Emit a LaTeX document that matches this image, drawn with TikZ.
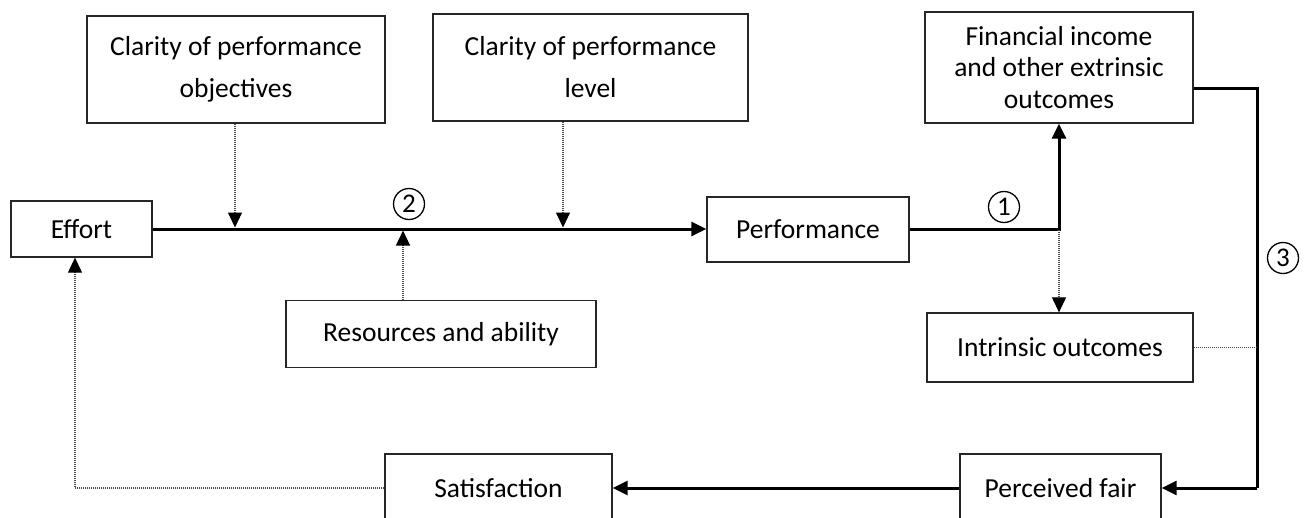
\documentclass[tikz,border=0pt]{standalone}
\usepackage{fontspec}
\setmainfont{Carlito}
\usetikzlibrary{arrows.meta}
\begin{document}
\begin{tikzpicture}[x=1pt,y=-1pt,
  box/.style={draw=black!85, line width=1.3pt, inner sep=0pt, align=center, font=\fontsize{27.5}{42}\selectfont},
  thickline/.style={line width=3pt, black},
  dotline/.style={line width=1.1pt, black!70, dash pattern=on 1pt off 1pt},
  tip/.style={-{Triangle[length=15pt,width=14pt,color=black]}},
  num/.style={draw, circle, line width=1.3pt, inner sep=0pt, minimum size=31pt, font=\fontsize{27}{27}\selectfont}
]
\useasboundingbox (0,0) rectangle (1307,517);
\node[box, minimum width=298pt, minimum height=107pt] (obj) at (236,69.5) {Clarity of performance\\objectives};
\node[box, minimum width=315pt, minimum height=107pt] (lvl) at (590.5,67.5) {Clarity of performance\\level};
\node[box, minimum width=268pt, minimum height=111pt, font=\fontsize{27.5}{31.5}\selectfont] (fin) at (1059,67.5) {Financial income\\and other extrinsic\\outcomes};
\node[box, minimum width=141pt, minimum height=56pt] (effort) at (81.5,229) {Effort};
\node[box, minimum width=202pt, minimum height=65pt] (perf) at (808,229.5) {Performance};
\node[box, minimum width=310pt, minimum height=67pt] (res) at (441,334) {Resources and ability};
\node[box, minimum width=266pt, minimum height=69pt] (intr) at (1060,347.5) {Intrinsic outcomes};
\node[box, minimum width=201pt, minimum height=68pt] (perc) at (1060.5,488) {Perceived fair};
\node[box, minimum width=227pt, minimum height=68pt] (sat) at (498.5,488) {Satisfaction};

\node[num] (n2) at (409,204) {2};
\node[num] (n1) at (1004,207) {1};
\node[num] (n3) at (1283,258) {3};

\coordinate (lvlx) at (563,0);
\coordinate (resx) at (403,0);
\coordinate (objx) at (235,0);
\coordinate (j1) at (1059,229.5);
\coordinate (j3top) at (1257,88);
\coordinate (j3bot) at (1257,488);
\coordinate (lx) at (75,0);

% main chain
\draw[thickline, tip] (effort.east) -- (perf.west |- effort.east);
\draw[dotline, tip, shorten >=1.5pt] (obj.south -| objx) -- (effort.east -| objx);
\draw[dotline, tip, shorten >=1.5pt] (lvl.south -| lvlx) -- (effort.east -| lvlx);
\draw[dotline, tip, shorten >=1.5pt] (res.north -| resx) -- (effort.east -| resx);

% performance to outcomes
\draw[thickline, tip] (perf.east) -- (j1) -- (fin.south -| j1);
\draw[dotline, tip] (j1) -- (intr.north -| j1);

% outcomes to perceived fair
\draw[thickline] ([yshift=-20.5pt]fin.east) -- (j3top) -- (j3bot);
\draw[thickline, tip] (j3bot) -- (perc.east);
\draw[dotline] (intr.east) -- (intr.east -| j3top);

% feedback
\draw[thickline, tip] (perc.west) -- (sat.east);
\draw[dotline, tip] (sat.west) -| (effort.south -| lx);
\end{tikzpicture}
\end{document}
